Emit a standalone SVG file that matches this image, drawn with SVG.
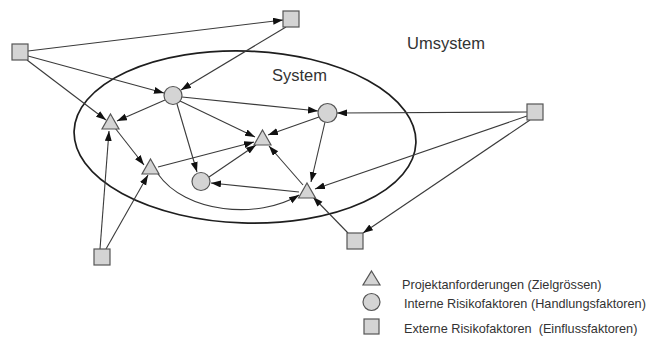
<svg xmlns="http://www.w3.org/2000/svg" width="647" height="344" viewBox="0 0 647 344">
  <defs>
    <style>
      .sq, .ci, .tr { fill: #d4d4d4; stroke: #555555; stroke-width: 1.2; }
      .edge { fill: none; stroke: #3a3a3a; stroke-width: 1.1; marker-end: url(#arrow); }
      .bound { fill: none; stroke: #1e1e1e; stroke-width: 1.7; }
      .title { font-family: "Liberation Sans", Arial, sans-serif; font-size: 16.5px; fill: #333333; }
      .legend { font-family: "Liberation Sans", Arial, sans-serif; font-size: 12.7px; fill: #333333; }
    </style>
    <marker id="arrow" markerUnits="userSpaceOnUse" markerWidth="11" markerHeight="8" refX="10" refY="3.5" orient="auto">
      <path d="M0,0 L10,3.5 L0,7 z" fill="#111111"/>
    </marker>
  </defs>

  <rect width="647" height="344" fill="#ffffff"/>

  <!-- system boundary -->
  <ellipse class="bound" cx="245" cy="137" rx="171" ry="86" transform="rotate(2 245 137)"/>

  <text class="title" x="407" y="49">Umsystem</text>
  <text class="title" x="272" y="81">System</text>

  <!-- connectors -->
  <g id="connectors">
    <line class="edge" x1="28" y1="51" x2="283" y2="20"/>
    <line class="edge" x1="286" y1="27" x2="181" y2="90"/>
    <line class="edge" x1="28" y1="56" x2="164" y2="93"/>
    <line class="edge" x1="27" y1="60" x2="106" y2="120"/>
    <line class="edge" x1="165" y1="100" x2="117" y2="121"/>
    <line class="edge" x1="182" y1="97" x2="318" y2="111"/>
    <line class="edge" x1="180" y1="101" x2="255" y2="137"/>
    <line class="edge" x1="177" y1="104" x2="197" y2="172"/>
    <line class="edge" x1="319" y1="117" x2="268" y2="135"/>
    <line class="edge" x1="325" y1="122" x2="311" y2="182"/>
    <line class="edge" x1="527" y1="112" x2="337" y2="113"/>
    <line class="edge" x1="527" y1="116" x2="315" y2="189"/>
    <line class="edge" x1="530" y1="120" x2="363" y2="233"/>
    <line class="edge" x1="348" y1="233" x2="313" y2="197"/>
    <line class="edge" x1="303" y1="185" x2="269" y2="146"/>
    <line class="edge" x1="299" y1="192" x2="211" y2="183"/>
    <line class="edge" x1="158" y1="167" x2="254" y2="142"/>
    <line class="edge" x1="209" y1="177" x2="256" y2="145"/>
    <line class="edge" x1="115" y1="128" x2="144" y2="165"/>
    <path class="edge" d="M158,174 C185,213 258,220 299,195"/>
    <line class="edge" x1="100" y1="249" x2="109" y2="131"/>
    <line class="edge" x1="106" y1="249" x2="148" y2="175"/>
  </g>

  <!-- external factors -->
  <g id="ext-1"><rect class="sq" x="12" y="44" width="16" height="16"/></g>
  <g id="ext-2"><rect class="sq" x="283" y="11" width="16" height="16"/></g>
  <g id="ext-3"><rect class="sq" x="527" y="104" width="16" height="16"/></g>
  <g id="ext-4"><rect class="sq" x="347" y="233" width="16" height="16"/></g>
  <g id="ext-5"><rect class="sq" x="94" y="249" width="16" height="16"/></g>

  <!-- internal factors -->
  <g id="int-1"><circle class="ci" cx="173" cy="95.5" r="9"/></g>
  <g id="int-2"><circle class="ci" cx="327.5" cy="113" r="9.5"/></g>
  <g id="int-3"><circle class="ci" cx="201" cy="181.5" r="9"/></g>

  <!-- project requirements -->
  <g id="req-1"><polygon class="tr" points="110.5,114 119,129 102,129"/></g>
  <g id="req-2"><polygon class="tr" points="262.5,130 271,145 254,145"/></g>
  <g id="req-3"><polygon class="tr" points="150.5,159 159,174 142,174"/></g>
  <g id="req-4"><polygon class="tr" points="307,183 315.5,198 298.5,198"/></g>

  <!-- legend -->
  <g id="legend">
    <polygon class="tr" points="371.5,271 380,285 363,285"/>
    <text class="legend" x="402" y="289">Projektanforderungen (Zielgrössen)</text>
    <circle class="ci" cx="371.5" cy="302" r="8.5"/>
    <text class="legend" x="404" y="308">Interne Risikofaktoren (Handlungsfaktoren)</text>
    <rect class="sq" x="364" y="319" width="15" height="15"/>
    <text class="legend" x="404" y="333" xml:space="preserve">Externe Risikofaktoren  (Einflussfaktoren)</text>
  </g>
</svg>
